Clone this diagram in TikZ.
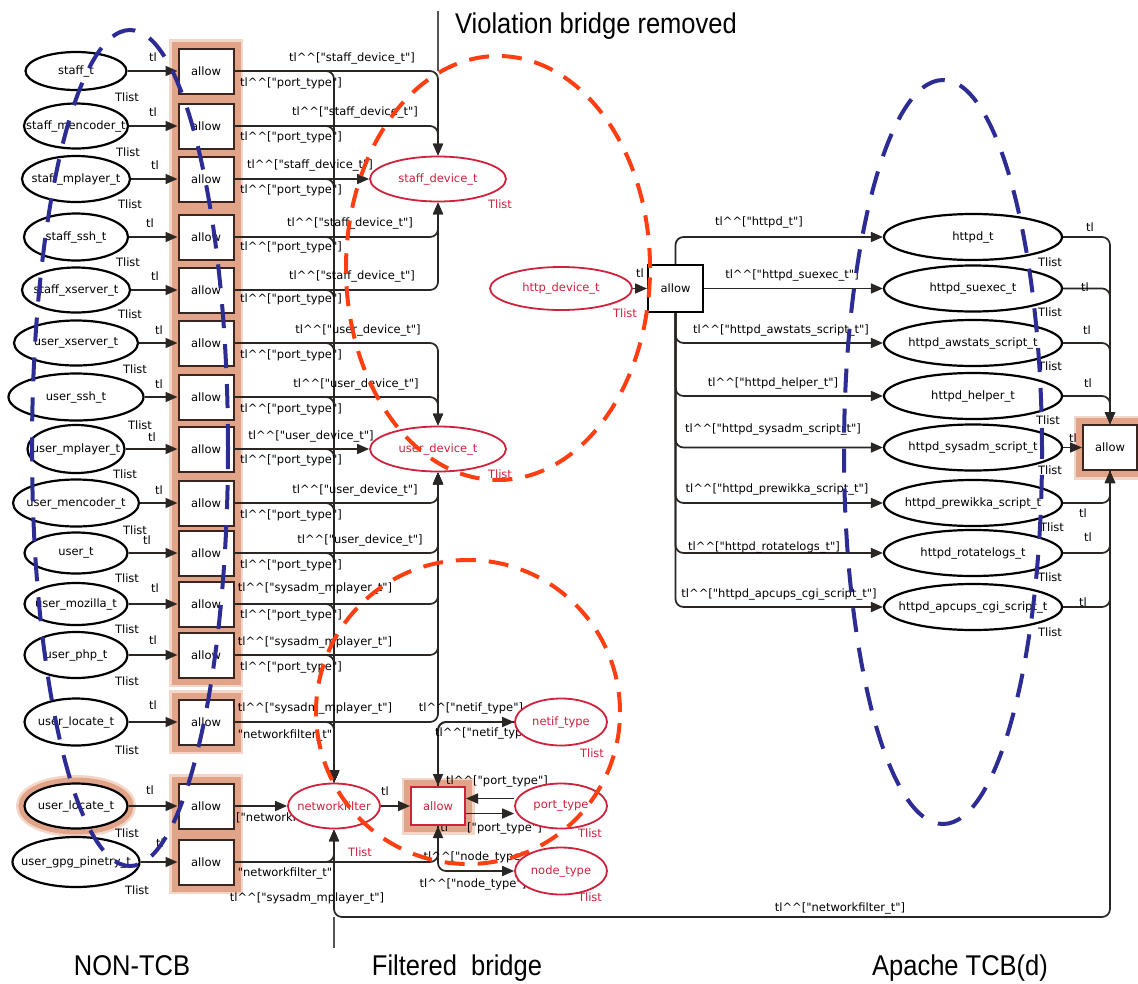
\documentclass[tikz,border=0pt]{standalone}
\usepackage{fontspec}
\setmainfont{DejaVu Sans}
\newfontfamily\capfont{Liberation Sans}
\usetikzlibrary{arrows.meta,shapes.geometric}
\pgfdeclarelayer{paper}
\pgfdeclarelayer{glow}
\pgfdeclarelayer{wires}
\pgfdeclarelayer{over}
\pgfsetlayers{paper,glow,wires,main,over}
% arc inscriptions: tl^^["..."]
\newcommand\qq{\textquotedbl}
\newcommand\tlc{tl\textasciicircum\textasciicircum}
\newcommand\ins[1]{\tlc[\qq#1\qq]}

\definecolor{wire}{HTML}{2A2624}
\definecolor{boxedge}{HTML}{3A2620}
\definecolor{glowc}{HTML}{E2A489}
\definecolor{glowsoft}{HTML}{F4D6C8}
\definecolor{netred}{HTML}{D0213D}
\definecolor{annblue}{HTML}{2C2C94}
\definecolor{annred}{HTML}{FF3F12}
\definecolor{sepgray}{HTML}{555555}

\tikzset{
  place/.style={ellipse, draw=black, line width=2.2pt, fill=white, inner sep=0pt},
  rplace/.style={ellipse, draw=netred, line width=1.8pt, fill=white, inner sep=0pt},
  trans/.style={rectangle, draw=boxedge, line width=2pt, fill=white,
    minimum width=55pt, minimum height=45pt, inner sep=0pt},
  rtrans/.style={trans, draw=netred, text=netred, minimum width=54pt, minimum height=38pt},
  arc/.style={draw=wire, line width=1.7pt, rounded corners=8pt,
    -{Triangle[length=12pt,width=10pt]}},
  sepline/.style={draw=sepgray, line width=1.2pt},
  lbl/.style={inner sep=0pt, text=black},
  rlbl/.style={inner sep=0pt, text=netred},
  caption/.style={inner sep=0pt, font=\capfont\fontsize{25.5}{28}\selectfont},
  halo/.style={draw=glowc, line width=12pt},
  halosoft/.style={draw=glowsoft, line width=17pt},
  bluering/.style={draw=annblue, line width=4pt, dash pattern=on 24pt off 16pt},
  redring/.style={draw=annred, line width=4pt, dash pattern=on 20pt off 13pt},
}

\begin{document}
\begin{tikzpicture}[x=1pt, y=-1pt, font=\fontsize{11.5}{13}\selectfont]
\useasboundingbox (0,0) rectangle (1138,983);
\begin{pgfonlayer}{paper}
  \fill[white] (0,0) rectangle (1138,983);
\end{pgfonlayer}

% ---------- NON-TCB column: domains and their allow transitions
\foreach \i/\y/\w/\h/\txt in {
  1/71/101/38/staff\_t,
  2/126/104/45/staff\_mencoder\_t,
  3/179/108/46/staff\_mplayer\_t,
  4/237/104/47/staff\_ssh\_t,
  5/290/108/45/staff\_xserver\_t,
  6/343/124/45/user\_xserver\_t,
  7/397/135/47/user\_ssh\_t,
  8/449/97/48/user\_mplayer\_t,
  9/503/126/47/user\_mencoder\_t,
  10/553/103/41/user\_t,
  11/604/103/42/user\_mozilla\_t,
  12/655/103/46/user\_php\_t,
  13/722/103/47/user\_locate\_t,
  14/806/103/45/user\_locate\_t,
  15/862/127/50/user\_gpg\_pinetry\_t}{
  \node[place, minimum width=\w pt, minimum height=\h pt] (L\i) at (76,\y) {};
  \node[lbl] at (L\i) {\txt};
  \node[trans] (B\i) at (206,\y) {allow};
}

% ---------- filtered bridge
\node[rplace, minimum width=136pt, minimum height=45pt] (SD) at (438,179) {};
\node[rlbl] at (SD) {staff\_device\_t};
\node[rplace, minimum width=136pt, minimum height=45pt] (UD) at (438,449) {};
\node[rlbl] at (UD) {user\_device\_t};
\node[rplace, minimum width=142pt, minimum height=43pt] (HD) at (561,288.5) {};
\node[rlbl] at (HD) {http\_device\_t};
\node[rplace, minimum width=92pt, minimum height=45pt] (NF) at (334,806) {};
\node[rlbl] at (NF) {networkfilter};
\node[rplace, minimum width=92pt, minimum height=47pt] (NI) at (561,722) {};
\node[rlbl] at (NI) {netif\_type};
\node[rplace, minimum width=92pt, minimum height=45pt] (PT) at (561,806) {};
\node[rlbl] at (PT) {port\_type};
\node[rplace, minimum width=92pt, minimum height=47pt] (NT) at (561,871) {};
\node[rlbl] at (NT) {node\_type};
\node[rtrans] (FA) at (438,806) {allow};

% ---------- Apache TCB
\node[trans, draw=black, minimum height=47pt] (AA) at (675.5,288.5) {allow};
\foreach \i/\y/\txt in {
  1/237/httpd\_t,
  2/288.5/httpd\_suexec\_t,
  3/343/httpd\_awstats\_script\_t,
  4/396/httpd\_helper\_t,
  5/447.5/httpd\_sysadm\_script\_t,
  6/503/httpd\_prewikka\_script\_t,
  7/553/httpd\_rotatelogs\_t,
  8/607/httpd\_apcups\_cgi\_script\_t}{
  \node[place, minimum width=178pt, minimum height=46pt] (R\i) at (973,\y) {};
  \node[lbl] at (R\i) {\txt};
}
\node[trans, minimum width=54pt] (RA) at (1110,447.5) {allow};

% ---------- highlight halos behind transitions
\begin{pgfonlayer}{glow}
  \foreach \n in {B1,B2,B3,B4,B5,B6,B7,B8,B9,B10,B11,B12,B13,B14,B15,FA,RA}
    \draw[halosoft] (\n.south west) rectangle (\n.north east);
  \foreach \n in {B1,B2,B3,B4,B5,B6,B7,B8,B9,B10,B11,B12,B13,B14,B15,FA,RA}
    \draw[halo] (\n.south west) rectangle (\n.north east);
  \draw[halosoft] (L14.center) ellipse [x radius=51.5pt, y radius=22.5pt];
  \draw[halo] (L14.center) ellipse [x radius=51.5pt, y radius=22.5pt];
\end{pgfonlayer}

% ---------- arcs and inscriptions
\begin{pgfonlayer}{wires}
  % separators
  \coordinate (vtop) at (438,11);
  \coordinate (vbot) at (334,948);
  \coordinate (loop) at (720,917);
  \draw[sepline] (vtop) -- (vtop |- B1.east);
  \draw[sepline] (vbot) -- (vbot |- loop);

  % domain -> allow
  \foreach \i in {1,...,15} \draw[arc] (L\i.east) -- (B\i.west);

  % allow -> device types
  \foreach \i in {1,2} \draw[arc] (B\i.east) -| (SD.north);
  \draw[arc] (B3.east) -- (SD.west);
  \foreach \i in {4,5} \draw[arc] (B\i.east) -| (SD.south);
  \foreach \i in {6,7} \draw[arc] (B\i.east) -| (UD.north);
  \draw[arc] (B8.east) -- (UD.west);
  \foreach \i in {9,...,13} \draw[arc] (B\i.east) -| (UD.south);

  % allow -> networkfilter bus
  \foreach \i in {1,...,13} \draw[arc] (B\i.east) -| (NF.north);
  \draw[arc] (B14.east) -- (NF.west);
  \draw[arc] (B15.east) -| (NF.south);
  \draw[arc] (B15.east) -| (FA.south);

  % filtered bridge transition
  \draw[arc] (NF.east) -- (FA.west);
  \draw[arc] (FA.north) |- (NI.west);
  \draw[arc] (NI.west) -| (FA.north);
  \draw[arc] ([yshift=7.5pt]PT.west) -- ([yshift=7.5pt]FA.east);
  \draw[arc] ([yshift=-7.5pt]FA.east) -- ([yshift=-7.5pt]PT.west);
  \draw[arc] (FA.south) |- (NT.west);

  % apache side
  \draw[arc] (HD.east) -- (AA.west);
  \draw[arc] (AA.north) |- (R1.west);
  \draw[arc] (AA.east) -- (R2.west);
  \foreach \i in {3,...,8} \draw[arc] (AA.south) |- (R\i.west);
  \foreach \i in {1,...,4} \draw[arc] (R\i.east) -| (RA.north);
  \draw[arc] (R5.east) -- (RA.west);
  \foreach \i in {6,7,8} \draw[arc] (R\i.east) -| (RA.south);
  \draw[arc] (RA.south) |- (loop) -| (NF.south);

  % inscriptions, left column
  \foreach \x/\y in {153/57,153/112,155/165,150/223,155/276,159/330,159/384,
      152/437,159/490,147/540,155/588,153/640,153/705,150/790,160/843}
    \node[lbl] at (\x,\y) {tl};
  \foreach \x/\y in {127/97,128/152,130/204,128/262,130/314,135/369,140/425,
      125/474,135/530,127/578,127/629,127/681,127/750,127/833,137/890}
    \node[lbl] at (\x,\y) {Tlist};
  \foreach \x/\y/\txt in {
      352/58/staff, 355/112/staff, 310/165/staff, 350/223/staff, 352/276/staff,
      358/330/user, 356/384/user, 311/436/user, 355/490/user, 360/540/user}
    \node[lbl] at (\x,\y) {\ins{\txt\_device\_t}};
  \foreach \y in {588,642,708}
    \node[lbl] at (315,\y) {\ins{sysadm\_mplayer\_t}};
  \foreach \y in {83,137,190,247,299,355,409,460,515,565,615,667}
    \node[lbl] at (291,\y) {\ins{port\_type}};
  \node[lbl] at (285,735) {\qq networkfilter\_t\qq};
  \node[lbl, anchor=west] at (236,818) {[\qq networkfilter\_t\qq]};
  \node[lbl] at (285,873) {\qq networkfilter\_t\qq};
  \node[lbl] at (307,898) {\ins{sysadm\_mplayer\_t}};

  % inscriptions, filtered bridge
  \node[lbl] at (385,791) {tl};
  \node[lbl] at (471,708) {\ins{netif\_type}};
  \node[lbl, anchor=west] at (435,733) {\ins{netif\_type}};
  \node[lbl] at (497,781) {\ins{port\_type}};
  \node[lbl, anchor=east] at (542,828) {\ins{port\_type}};
  \node[lbl] at (477,857) {\ins{node\_type}};
  \node[lbl] at (473,884) {\ins{node\_type}};
  \node[lbl] at (640,273) {tl};
  \foreach \x/\y in {360/852,592/753,590/833,590/897,500/204,500/474,625/313}
    \node[rlbl] at (\x,\y) {Tlist};

  % inscriptions, apache side
  \foreach \x/\y/\txt in {
      759/222/httpd\_t,
      792/275/httpd\_suexec\_t,
      781/330/httpd\_awstats\_script\_t,
      773/383/httpd\_helper\_t,
      773/429/httpd\_sysadm\_script\_t,
      777/489/httpd\_prewikka\_script\_t,
      764/547/httpd\_rotatelogs\_t,
      779/594/httpd\_apcups\_cgi\_script\_t}
    \node[lbl] at (\x,\y) {\ins{\txt}};
  \foreach \x/\y in {1090/227,1085/287,1087/330,1088/383,1073/438,1083/513,1088/537,1083/602}
    \node[lbl] at (\x,\y) {tl};
  \foreach \x/\y in {1050/262,1050/312,1050/366,1048/420,1050/470,1052/527,1050/577,1050/632}
    \node[lbl] at (\x,\y) {Tlist};
  \node[lbl] at (840,908) {\ins{networkfilter\_t}};
\end{pgfonlayer}

% ---------- region markings and captions
\begin{pgfonlayer}{over}
  \draw[bluering] (130,448) ellipse [x radius=98pt, y radius=418pt];
  \draw[redring] (498,268) ellipse [x radius=152pt, y radius=212pt];
  \draw[redring] (468,712) circle [radius=152pt];
  \draw[bluering] (943,452) ellipse [x radius=99pt, y radius=372pt];

  \node[caption, anchor=base] (capV) at (596,33) {\scalebox{1}[1.12]{Violation bridge removed}};
  \node[caption, anchor=base] (capN) at (132,975) {\scalebox{1}[1.12]{NON-TCB}};
  \node[caption, anchor=base] (capF) at (457,975) {\scalebox{1}[1.12]{Filtered\ \ bridge}};
  \node[caption, anchor=base] (capA) at (960,975) {\scalebox{1}[1.12]{Apache TCB(d)}};
\end{pgfonlayer}
\end{tikzpicture}
\end{document}
